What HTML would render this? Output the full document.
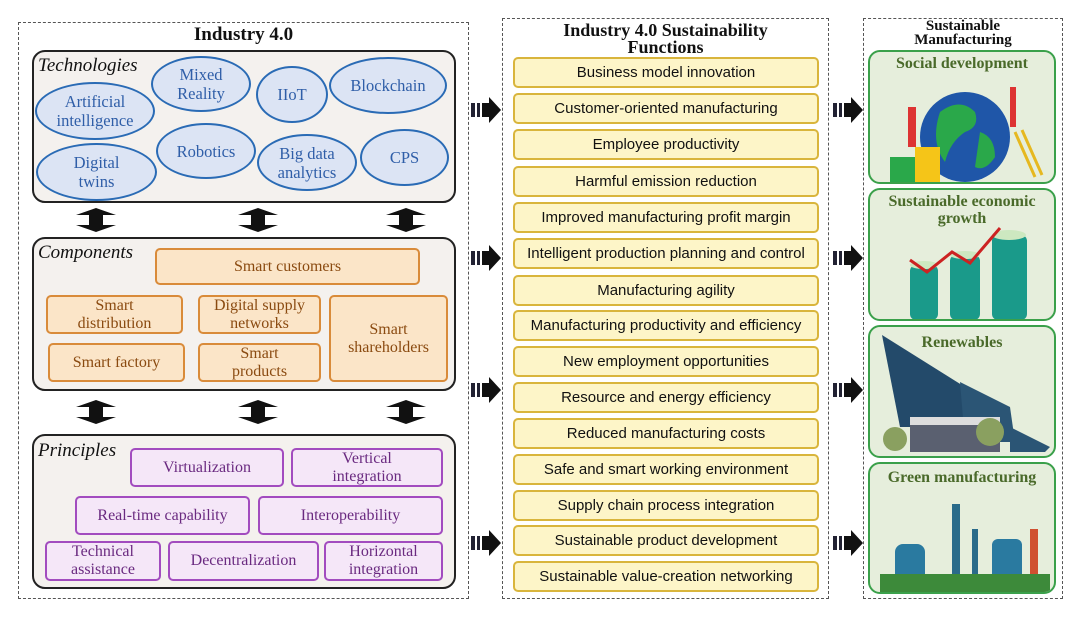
<!DOCTYPE html>
<html><head><meta charset="utf-8"><style>
*{margin:0;padding:0;box-sizing:border-box}
body{width:1080px;height:617px;background:#fff;position:relative;overflow:hidden;font-family:"Liberation Serif",serif}
.a{position:absolute}
.dash{position:absolute;border:1.5px dashed #555}
.grp{position:absolute;background:#f4f1ee;border:2px solid #222;border-radius:13px}
.lab{position:absolute;font-style:italic;font-size:19px;color:#111}
.el{position:absolute;background:#dce4f4;border:2px solid #2a6bb5;border-radius:50%;color:#2f5ea8;font-size:16.5px;display:flex;align-items:center;justify-content:center;text-align:center;line-height:19px}
.or{position:absolute;background:#fbe5c8;border:2px solid #d98b3a;border-radius:5px;color:#8a4a10;font-size:16px;display:flex;align-items:center;justify-content:center;text-align:center;line-height:18px}
.pu{position:absolute;background:#f5e7f8;border:2px solid #a24cbf;border-radius:5px;color:#6a2a80;font-size:16px;display:flex;align-items:center;justify-content:center;text-align:center;line-height:18px}
.yl{position:absolute;left:513px;width:306px;height:31px;background:#fdf5c8;border:2px solid #d9b53c;border-radius:5px;font-family:"Liberation Sans",sans-serif;font-size:15px;color:#111;display:flex;align-items:center;justify-content:center}
.gp{position:absolute;left:868px;width:188px;background:#e6eedc;border:2.5px solid #3aa04a;border-radius:12px;overflow:hidden}
.gt{position:absolute;left:0;right:0;text-align:center;font-weight:bold;color:#4a6a2a;font-size:16px;line-height:17px}
.t{font-weight:bold;font-size:18px;text-align:center;color:#111;line-height:17px}
</style></head><body>

<div class="dash" style="left:18px;top:22px;width:451px;height:577px"></div>
<div class="a t" style="left:18px;top:26px;width:451px;font-size:19px">Industry 4.0</div>

<div class="grp" style="left:32px;top:50px;width:424px;height:153px"></div>
<div class="lab" style="left:38px;top:55px">Technologies</div>
<div class="el" style="left:35px;top:82px;width:120px;height:58px">Artificial<br>intelligence</div>
<div class="el" style="left:151px;top:56px;width:100px;height:56px">Mixed<br>Reality</div>
<div class="el" style="left:256px;top:66px;width:72px;height:57px">IIoT</div>
<div class="el" style="left:329px;top:57px;width:118px;height:57px">Blockchain</div>
<div class="el" style="left:36px;top:143px;width:121px;height:58px">Digital<br>twins</div>
<div class="el" style="left:156px;top:123px;width:100px;height:56px">Robotics</div>
<div class="el" style="left:257px;top:134px;width:100px;height:57px">Big data<br>analytics</div>
<div class="el" style="left:360px;top:129px;width:89px;height:57px">CPS</div>

<div class="grp" style="left:32px;top:237px;width:424px;height:154px"></div>
<div class="lab" style="left:38px;top:242px">Components</div>
<div class="or" style="left:155px;top:248px;width:265px;height:37px">Smart customers</div>
<div class="or" style="left:46px;top:295px;width:137px;height:39px">Smart<br>distribution</div>
<div class="or" style="left:198px;top:295px;width:123px;height:39px">Digital supply<br>networks</div>
<div class="or" style="left:329px;top:295px;width:119px;height:87px">Smart<br>shareholders</div>
<div class="or" style="left:48px;top:343px;width:137px;height:39px">Smart factory</div>
<div class="or" style="left:198px;top:343px;width:123px;height:39px">Smart<br>products</div>

<div class="grp" style="left:32px;top:434px;width:424px;height:155px"></div>
<div class="lab" style="left:38px;top:440px">Principles</div>
<div class="pu" style="left:130px;top:448px;width:154px;height:39px">Virtualization</div>
<div class="pu" style="left:291px;top:448px;width:152px;height:39px">Vertical<br>integration</div>
<div class="pu" style="left:75px;top:496px;width:175px;height:39px">Real-time capability</div>
<div class="pu" style="left:258px;top:496px;width:185px;height:39px">Interoperability</div>
<div class="pu" style="left:45px;top:541px;width:116px;height:40px">Technical<br>assistance</div>
<div class="pu" style="left:168px;top:541px;width:151px;height:40px">Decentralization</div>
<div class="pu" style="left:324px;top:541px;width:119px;height:40px">Horizontal<br>integration</div>

<svg class="a" style="left:0;top:0" width="1080" height="617">
<defs>
<g id="da"><polygon points="0,-12 20,-5 7,-5 7,5 20,5 0,12 -20,5 -7,5 -7,-5 -20,-5" fill="#111"/></g>
<g id="ra"><rect x="0" y="-7" width="4" height="14" fill="#223"/><rect x="6" y="-7" width="3" height="14" fill="#223"/><polygon points="11,-7 18,-7 18,-13 30,0 18,13 18,7 11,7" fill="#111"/></g>
</defs>
<use href="#da" x="96" y="220"/><use href="#da" x="258" y="220"/><use href="#da" x="406" y="220"/>
<use href="#da" x="96" y="412"/><use href="#da" x="258" y="412"/><use href="#da" x="406" y="412"/>
<use href="#ra" x="471" y="110"/><use href="#ra" x="471" y="258"/><use href="#ra" x="471" y="390"/><use href="#ra" x="471" y="543"/>
<use href="#ra" x="833" y="110"/><use href="#ra" x="833" y="258"/><use href="#ra" x="833" y="390"/><use href="#ra" x="833" y="543"/>
</svg>

<div class="dash" style="left:502px;top:18px;width:327px;height:581px"></div>
<div class="a t" style="left:502px;top:22px;width:327px">Industry 4.0 Sustainability<br>Functions</div>
<div class="yl" style="top:57px">Business model innovation</div>
<div class="yl" style="top:93px">Customer-oriented manufacturing</div>
<div class="yl" style="top:129px">Employee productivity</div>
<div class="yl" style="top:166px">Harmful emission reduction</div>
<div class="yl" style="top:202px">Improved manufacturing profit margin</div>
<div class="yl" style="top:238px">Intelligent production planning and control</div>
<div class="yl" style="top:275px">Manufacturing agility</div>
<div class="yl" style="top:310px">Manufacturing productivity and efficiency</div>
<div class="yl" style="top:346px">New employment opportunities</div>
<div class="yl" style="top:382px">Resource and energy efficiency</div>
<div class="yl" style="top:418px">Reduced manufacturing costs</div>
<div class="yl" style="top:454px">Safe and smart working environment</div>
<div class="yl" style="top:490px">Supply chain process integration</div>
<div class="yl" style="top:525px">Sustainable product development</div>
<div class="yl" style="top:561px">Sustainable value-creation networking</div>

<div class="dash" style="left:863px;top:18px;width:200px;height:581px"></div>
<div class="a t" style="left:863px;top:19px;width:200px;font-size:15px;line-height:14px">Sustainable<br>Manufacturing</div>

<div class="gp" style="top:50px;height:134px">
<div class="gt" style="top:3px">Social development</div>
<svg class="a" style="left:0;top:0" width="188" height="134">
<circle cx="95" cy="85" r="45" fill="#1f56a8"/>
<path d="M70 60 q20 -15 35 0 q5 15 -10 20 q-15 10 -20 30 q-15 -20 -5 -50z" fill="#2aa84a"/>
<path d="M110 80 q15 5 15 25 q-10 15 -20 10z" fill="#2aa84a"/>
<rect x="20" y="105" width="25" height="25" fill="#2aa84a"/><rect x="45" y="95" width="25" height="35" fill="#f5c518"/>
<rect x="38" y="55" width="8" height="40" fill="#d33"/><rect x="140" y="35" width="6" height="40" fill="#d33"/>
<path d="M145 80 l20 45 M152 78 l20 45" stroke="#e6b820" stroke-width="3"/>
</svg></div>

<div class="gp" style="top:188px;height:133px">
<div class="gt" style="top:3px">Sustainable economic<br>growth</div>
<svg class="a" style="left:0;top:0" width="188" height="133">
<rect x="40" y="75" width="28" height="55" rx="6" fill="#1a9a8a"/><ellipse cx="54" cy="75" rx="14" ry="4" fill="#cde8c0"/>
<rect x="80" y="65" width="30" height="65" rx="6" fill="#1a9a8a"/><ellipse cx="95" cy="65" rx="15" ry="4" fill="#cde8c0"/>
<rect x="122" y="45" width="35" height="85" rx="6" fill="#1a9a8a"/><ellipse cx="139" cy="45" rx="17" ry="5" fill="#cde8c0"/>
<polyline points="40,70 57,82 82,62 100,73 130,38" fill="none" stroke="#c22" stroke-width="3"/>
</svg></div>

<div class="gp" style="top:325px;height:133px">
<div class="gt" style="top:7px">Renewables</div>
<svg class="a" style="left:0;top:0" width="188" height="133">
<polygon points="12,8 95,60 95,100 30,100" fill="#234a6a"/>
<polygon points="90,55 140,80 145,115 95,115" fill="#2b5575"/>
<polygon points="140,100 180,120 175,125 140,125" fill="#2b5575"/>
<rect x="40" y="95" width="90" height="30" fill="#5a6070"/><rect x="40" y="90" width="90" height="8" fill="#ddd"/>
<circle cx="25" cy="112" r="12" fill="#8aa060"/><circle cx="120" cy="105" r="14" fill="#8aa060"/>
</svg></div>

<div class="gp" style="top:462px;height:132px">
<div class="gt" style="top:5px">Green manufacturing</div>
<svg class="a" style="left:0;top:0" width="188" height="132">
<rect x="82" y="40" width="8" height="70" fill="#2a6b8a"/>
<rect x="102" y="65" width="6" height="45" fill="#2a6b8a"/>
<rect x="160" y="65" width="8" height="45" fill="#d05030"/>
<rect x="25" y="80" width="30" height="40" rx="8" fill="#2a7aa0"/>
<rect x="122" y="75" width="30" height="45" rx="6" fill="#2a7aa0"/>
<rect x="10" y="110" width="170" height="18" fill="#3d8a3a"/>
</svg></div>

</body></html>
